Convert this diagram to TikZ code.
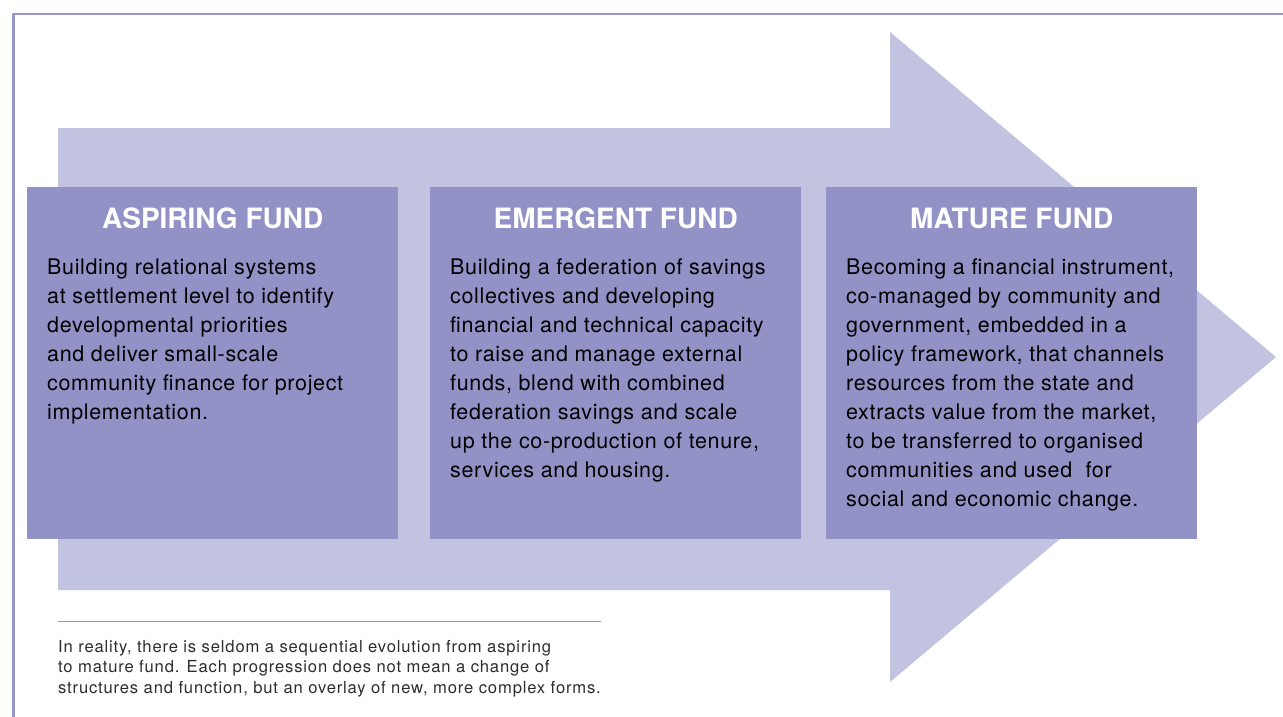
\documentclass[tikz,border=0pt]{standalone}
\usepackage{fontspec}
\setmainfont{TeX Gyre Heros}
\newfontfamily\widebody[LetterSpace=3]{TeX Gyre Heros}
\newfontfamily\widenote[LetterSpace=5]{TeX Gyre Heros}
\usepackage{tikz}
\usetikzlibrary{positioning}
\definecolor{arrowfill}{RGB}{194,194,225}
\definecolor{boxfill}{RGB}{146,146,199}
\definecolor{framecol}{RGB}{150,150,204}
\definecolor{notegrey}{RGB}{45,45,45}
\tikzstyle{stage} = [rectangle, minimum width=371pt, minimum height=352pt, inner sep=0pt, anchor=north west, fill=boxfill]
\tikzstyle{stagetitle} = [font=\fontsize{28}{30}\selectfont\bfseries, text=white, inner sep=0pt, anchor=base]
\tikzstyle{stagetext} = [font=\widebody\fontsize{21.5}{29}\selectfont, align=left, inner sep=0pt, anchor=north west]
\tikzstyle{note} = [font=\widenote\fontsize{16.6}{20.5}\selectfont, text=notegrey, align=left, inner sep=0pt, anchor=north west]

\begin{document}
\begin{tikzpicture}[x=1pt,y=-1pt]
  \useasboundingbox (0,0) rectangle (1283,717);
  % frame
  \draw [framecol, line width=2.5pt] (13.5,717) -- (13.5,14) -- (1283,14);
  % big arrow
  \fill [arrowfill] (58,128) -- (890,128) -- (890,32) -- (1276,357) -- (890,682)
    -- (890,590) -- (58,590) -- cycle;
  % stages
  \node (s1) [stage] at (27,187) {};
  \node (s2) [stage] at (430,187) {};
  \node (s3) [stage] at (826,187) {};
  \node (t1) [stagetitle] at ([yshift=-41pt]s1.north) {ASPIRING FUND};
  \node (t2) [stagetitle] at ([yshift=-41pt]s2.north) {EMERGENT FUND};
  \node (t3) [stagetitle] at ([yshift=-41pt]s3.north) {MATURE FUND};
  \node (b1) [stagetext] at ([xshift=20pt,yshift=-72pt]s1.north west) {Building relational systems\\
    at settlement level to identify\\
    developmental priorities\\
    and deliver small-scale\\
    community finance for project\\
    implementation.};
  \node (b2) [stagetext] at ([xshift=20pt,yshift=-72pt]s2.north west) {Building a federation of savings\\
    collectives and developing\\
    financial and technical capacity\\
    to raise and manage external\\
    funds, blend with combined\\
    federation savings and scale\\
    up the co-production of tenure,\\
    services and housing.};
  \node (b3) [stagetext] at ([xshift=20pt,yshift=-72pt]s3.north west) {Becoming a financial instrument,\\
    co-managed by community and\\
    government, embedded in a\\
    policy framework, that channels\\
    resources from the state and\\
    extracts value from the market,\\
    to be transferred to organised\\
    communities and used\ \ for\\
    social and economic change.};
  % footnote
  \coordinate (r1) at (58,621);
  \coordinate (r2) at (601,621);
  \draw [framecol, line width=0.8pt] (r1) -- (r2);
  \node (fn) [note] at (58,640) {In reality, there is seldom a sequential evolution from aspiring\\
    to mature fund. Each progression does not mean a change of\\
    structures and function, but an overlay of new, more complex forms.};
\end{tikzpicture}
\end{document}
